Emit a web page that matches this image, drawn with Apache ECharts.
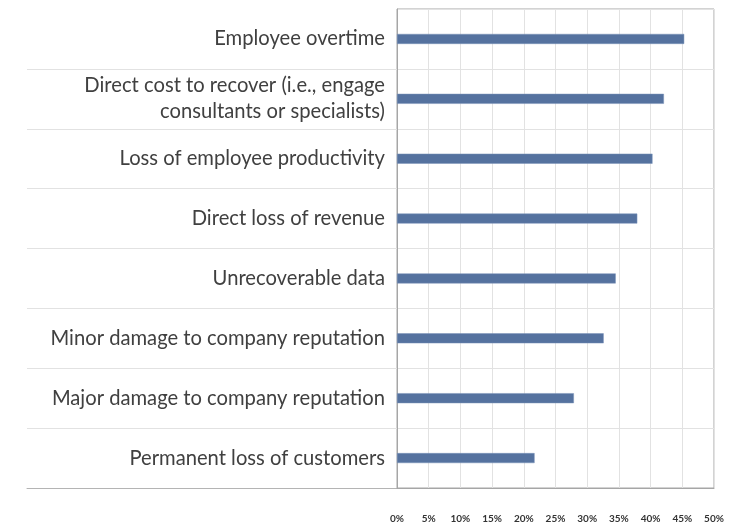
<!DOCTYPE html>
<html>
<head>
<meta charset="utf-8">
<script src="https://cdn.jsdelivr.net/npm/echarts@6/dist/echarts.min.js"></script>
<style>
html,body{margin:0;padding:0;background:#fff;}
#chart{width:748px;height:525px;}
</style>
</head>
<body>
<div id="chart"></div>
<script>
const categories = [
  'Employee overtime',
  'Direct cost to recover (i.e., engage\nconsultants or specialists)',
  'Loss of employee productivity',
  'Direct loss of revenue',
  'Unrecoverable data',
  'Minor damage to company reputation',
  'Major damage to company reputation',
  'Permanent loss of customers'
];
const values = [45.3, 42.1, 40.3, 37.9, 34.5, 32.6, 27.9, 21.7];
const xMin = 0, xMax = 50, xStep = 5;

const chart = echarts.init(document.getElementById('chart'), null, {renderer: 'canvas'});
const FONT = 'Lato';
chart.setOption({
  animation: false,
  backgroundColor: '#ffffff',
  grid: [
    {left: 27, top: 9, width: 370, height: 479, containLabel: false},
    {left: 397, top: 9, width: 317, height: 479, show: true, borderColor: '#a6a6a6', borderWidth: 1, containLabel: false}
  ],
  xAxis: [
    {gridIndex: 0, type: 'value', min: 0, max: 1, show: true,
     axisLine: {show: true, lineStyle: {color: '#b4b4b4', width: 1}},
     axisTick: {show: false}, axisLabel: {show: false}, splitLine: {show: false}},
    {gridIndex: 1, type: 'value', min: xMin, max: xMax, interval: xStep,
     axisLine: {show: true, lineStyle: {color: '#a6a6a6', width: 1}},
     axisTick: {show: false},
     axisLabel: {formatter: '{value}%', fontFamily: FONT, fontWeight: 'bold', fontSize: 10, color: '#333333', margin: 26},
     splitLine: {show: true, lineStyle: {color: '#e2e2e2', width: 1}}}
  ],
  yAxis: [
    {gridIndex: 0, type: 'category', data: categories, inverse: true,
     axisLine: {show: false}, axisTick: {show: false}, axisLabel: {show: false},
     splitLine: {show: true, interval: function(i){ return i !== 0; }, lineStyle: {color: '#e2e2e2', width: 1}}},
    {gridIndex: 1, type: 'category', data: categories, inverse: true,
     axisLine: {show: true, lineStyle: {color: '#a6a6a6', width: 1}},
     axisTick: {show: false},
     axisLabel: {fontFamily: FONT, fontSize: 20.2, color: '#404040', margin: 12, align: 'right', lineHeight: 26, padding: [6, 0, 0, 0]},
     splitLine: {show: true, lineStyle: {color: '#e2e2e2', width: 1}}}
  ],
  series: [{
    type: 'bar', xAxisIndex: 1, yAxisIndex: 1,
    data: values, barWidth: 10,
    itemStyle: {color: '#55729f', borderColor: '#7a93b8', borderWidth: 0.5}
  }]
});
</script>
</body>
</html>
